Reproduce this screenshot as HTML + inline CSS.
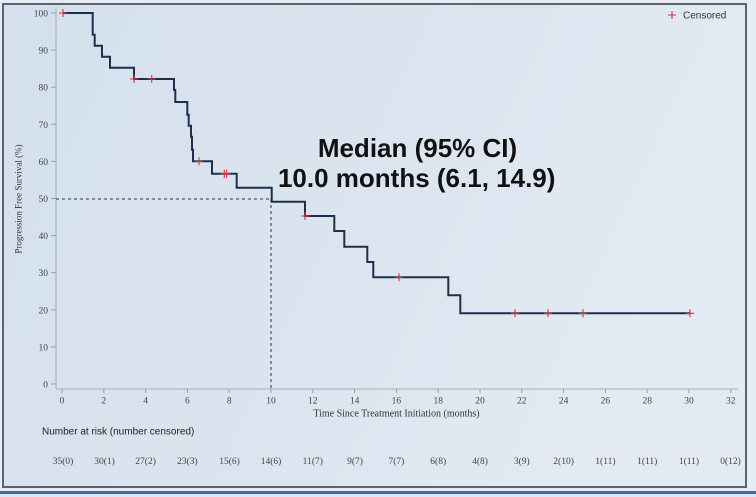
<!DOCTYPE html>
<html><head><meta charset="utf-8"><style>
html,body{margin:0;padding:0;}
body{width:756px;height:497px;overflow:hidden;background:#e9eef4;}
svg{display:block;}
</style></head><body>
<svg width="756" height="497" viewBox="0 0 756 497" xmlns="http://www.w3.org/2000/svg">
<defs>
<linearGradient id="bg" x1="0" y1="0" x2="1" y2="0.3">
<stop offset="0" stop-color="#d4e0ed"/>
<stop offset="0.5" stop-color="#dae4ef"/>
<stop offset="1" stop-color="#e3eaf3"/>
</linearGradient>
</defs>
<rect x="0" y="0" width="756" height="497" fill="#e6ecf3"/>
<rect x="3" y="4" width="743" height="483" fill="url(#bg)" stroke="#5c636b" stroke-width="2"/>
<rect x="0" y="491" width="756" height="3" fill="#3d6ca3"/>
<rect x="0" y="494" width="756" height="3" fill="#dfe8f2"/>

<!-- axes -->
<g stroke="#a9adb3" stroke-width="1" fill="none">
<line x1="56" y1="7" x2="56" y2="389"/>
<line x1="56" y1="389" x2="738" y2="389"/>
</g>
<g stroke="#9a9ea4" stroke-width="1">
<line x1="51" y1="13" x2="56" y2="13"/><line x1="51" y1="50.1" x2="56" y2="50.1"/>
<line x1="51" y1="87.2" x2="56" y2="87.2"/><line x1="51" y1="124.3" x2="56" y2="124.3"/>
<line x1="51" y1="161.4" x2="56" y2="161.4"/><line x1="51" y1="198.5" x2="56" y2="198.5"/>
<line x1="51" y1="235.6" x2="56" y2="235.6"/><line x1="51" y1="272.7" x2="56" y2="272.7"/>
<line x1="51" y1="309.8" x2="56" y2="309.8"/><line x1="51" y1="346.9" x2="56" y2="346.9"/>
<line x1="51" y1="384" x2="56" y2="384"/>
<line x1="62" y1="389" x2="62" y2="393"/><line x1="103.8" y1="389" x2="103.8" y2="393"/>
<line x1="145.6" y1="389" x2="145.6" y2="393"/><line x1="187.4" y1="389" x2="187.4" y2="393"/>
<line x1="229.2" y1="389" x2="229.2" y2="393"/><line x1="271" y1="389" x2="271" y2="393"/>
<line x1="312.8" y1="389" x2="312.8" y2="393"/><line x1="354.6" y1="389" x2="354.6" y2="393"/>
<line x1="396.4" y1="389" x2="396.4" y2="393"/><line x1="438.2" y1="389" x2="438.2" y2="393"/>
<line x1="480" y1="389" x2="480" y2="393"/><line x1="521.8" y1="389" x2="521.8" y2="393"/>
<line x1="563.6" y1="389" x2="563.6" y2="393"/><line x1="605.4" y1="389" x2="605.4" y2="393"/>
<line x1="647.2" y1="389" x2="647.2" y2="393"/><line x1="689" y1="389" x2="689" y2="393"/>
<line x1="730.8" y1="389" x2="730.8" y2="393"/>
</g>
<g font-family="Liberation Serif, serif" font-size="9.5" fill="#444" text-anchor="end">
<text x="48" y="16.5">100</text><text x="48" y="53.6">90</text><text x="48" y="90.7">80</text>
<text x="48" y="127.8">70</text><text x="48" y="164.9">60</text><text x="48" y="202">50</text>
<text x="48" y="239.1">40</text><text x="48" y="276.2">30</text><text x="48" y="313.3">20</text>
<text x="48" y="350.4">10</text><text x="48" y="387.5">0</text>
</g>
<g font-family="Liberation Serif, serif" font-size="9.5" fill="#444" text-anchor="middle">
<text x="62" y="403.5">0</text><text x="103.8" y="403.5">2</text><text x="145.6" y="403.5">4</text>
<text x="187.4" y="403.5">6</text><text x="229.2" y="403.5">8</text><text x="271" y="403.5">10</text>
<text x="312.8" y="403.5">12</text><text x="354.6" y="403.5">14</text><text x="396.4" y="403.5">16</text>
<text x="438.2" y="403.5">18</text><text x="480" y="403.5">20</text><text x="521.8" y="403.5">22</text>
<text x="563.6" y="403.5">24</text><text x="605.4" y="403.5">26</text><text x="647.2" y="403.5">28</text>
<text x="689" y="403.5">30</text><text x="730.8" y="403.5">32</text>
</g>
<text x="396.5" y="416.5" font-family="Liberation Serif, serif" font-size="10" fill="#333" text-anchor="middle">Time Since Treatment Initiation (months)</text>
<text transform="translate(21.5,199) rotate(-90)" font-family="Liberation Serif, serif" font-size="9" fill="#333" text-anchor="middle">Progression Free Survival (%)</text>

<!-- median dashed lines -->
<g stroke="#333" stroke-width="1" stroke-dasharray="3,3" fill="none">
<line x1="56" y1="199" x2="271" y2="199"/>
<line x1="271" y1="199" x2="271" y2="389"/>
</g>

<!-- KM curve -->
<path d="M63,13 H92.7 V34.7 H94.7 V45.7 H102 V56.7 H110 V67.7 H134 V79 H174 V90 H175.3 V102 H187.3 V114.7 H188.7 V125.7 H191 V136.7 H192 V149.7 H193 V161.3 H212 V173.7 H236.7 V187.7 H271.7 V201.7 H305 V216 H334.3 V231 H344.3 V246.7 H367.3 V262 H373.3 V277.3 H448.3 V295.3 H460.3 V313.3 H690" fill="none" stroke="#1f2e4d" stroke-width="2"/>

<!-- censor marks -->
<g stroke="#e0303a" stroke-width="1.1">
<path d="M59,13h8M63,9v8"/>
<path d="M130,79h8M134,75v8"/>
<path d="M147.7,79h8M151.7,75v8"/>
<path d="M195,161.3h8M199,157.3v8"/>
<path d="M220.3,173.7h8M224.3,169.7v8"/>
<path d="M222.7,173.7h8M226.7,169.7v8"/>
<path d="M301,216h8M305,212v8"/>
<path d="M395,277.3h8M399,273.3v8"/>
<path d="M511,313.3h8M515,309.3v8"/>
<path d="M544,313.3h8M548,309.3v8"/>
<path d="M579,313.3h8M583,309.3v8"/>
<path d="M686,313.3h8M690,309.3v8"/>
<path d="M668,15h8M672,11v8"/>
</g>
<text x="683" y="18.5" font-family="Liberation Sans, sans-serif" font-size="10" fill="#333">Censored</text>

<!-- median text -->
<g font-family="Liberation Sans, sans-serif" font-size="26" font-weight="bold" fill="#111" text-anchor="middle">
<text x="417.5" y="157">Median (95% CI)</text>
<text x="416.7" y="187">10.0 months (6.1, 14.9)</text>
</g>

<!-- number at risk -->
<text x="42" y="434.5" font-family="Liberation Sans, sans-serif" font-size="10" fill="#222">Number at risk (number censored)</text>
<g font-family="Liberation Serif, serif" font-size="9.5" fill="#444" text-anchor="middle">
<text x="63" y="464">35(0)</text><text x="104.5" y="464">30(1)</text><text x="145.6" y="464">27(2)</text>
<text x="187.4" y="464">23(3)</text><text x="229.5" y="464">15(6)</text><text x="271" y="464">14(6)</text>
<text x="312.8" y="464">11(7)</text><text x="355" y="464">9(7)</text><text x="396.4" y="464">7(7)</text>
<text x="438.2" y="464">6(8)</text><text x="480" y="464">4(8)</text><text x="521.8" y="464">3(9)</text>
<text x="563.6" y="464">2(10)</text><text x="605.4" y="464">1(11)</text><text x="647.2" y="464">1(11)</text>
<text x="689" y="464">1(11)</text><text x="730.5" y="464">0(12)</text>
</g>
</svg>
</body></html>
